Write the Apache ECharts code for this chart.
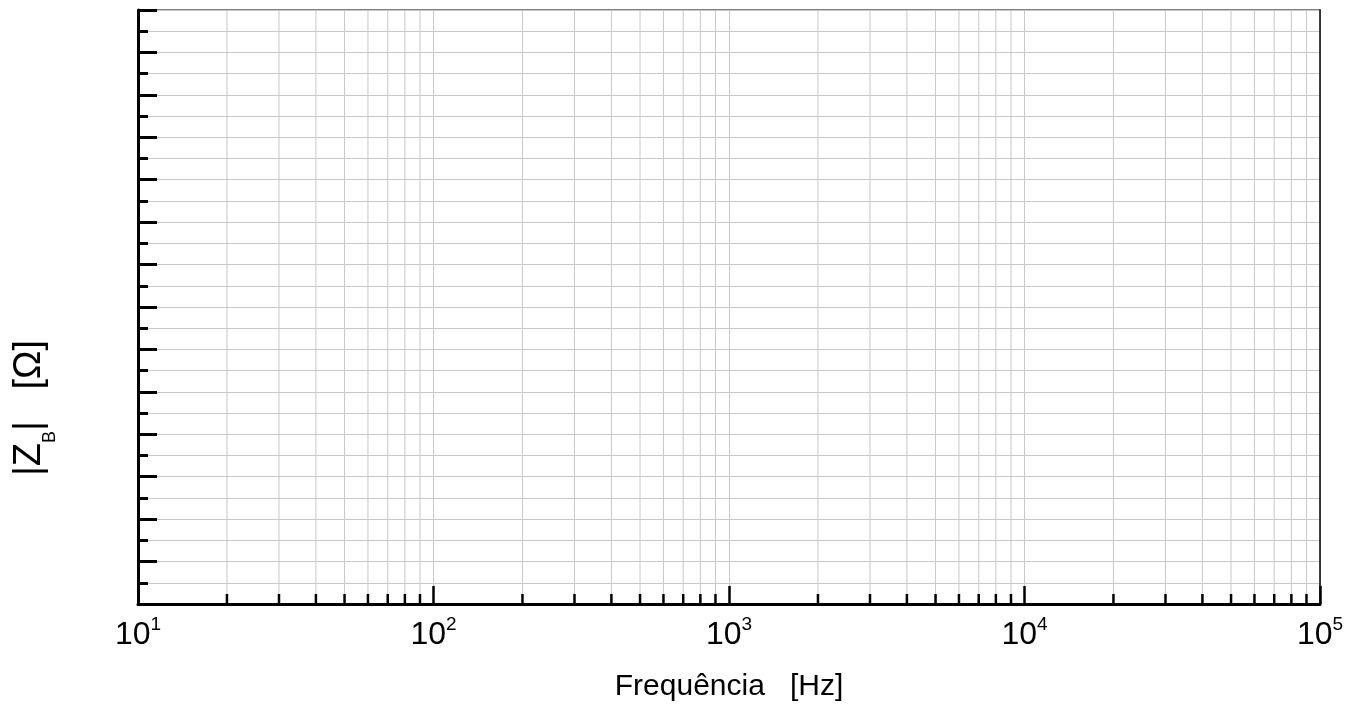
<!DOCTYPE html>
<html>
<head>
<meta charset="utf-8">
<script src="https://cdn.jsdelivr.net/npm/echarts@6/dist/echarts.min.js"></script>
<style>
html,body{margin:0;padding:0;background:#ffffff;}
#chart{width:1363px;height:713px;}
</style>
</head>
<body>
<div id="chart"></div>
<script>
// ---- axis ranges and tick data (chart contains no plotted series values) ----
const xMin = 10;
const xMax = 100000;
const xMajorTicks = [10, 100, 1000, 10000, 100000];
const xTickExponents = ['1', '2', '3', '4', '5'];
const xMinorTicks = [
  20, 30, 40, 50, 60, 70, 80, 90,
  200, 300, 400, 500, 600, 700, 800, 900,
  2000, 3000, 4000, 5000, 6000, 7000, 8000, 9000,
  20000, 30000, 40000, 50000, 60000, 70000, 80000, 90000
];
const yMin = 0;
const yMax = 28;
const yMajorStep = 2;
const xAxisName = 'Frequência   [Hz]';
const yAxisNameRich = '{m||Z}{sub|B}{m||   [Ω]}';

const FONT = '"Liberation Sans", Arial, sans-serif';
const GRID_COLOR = '#c8c8c8';

function expLabel(v) {
  let idx = -1;
  for (let i = 0; i < xMajorTicks.length; i++) {
    if (Math.abs(v - xMajorTicks[i]) / xMajorTicks[i] < 1e-6) { idx = i; break; }
  }
  if (idx < 0) return '';
  return '{b|10}{s|' + xTickExponents[idx] + '}';
}

const chart = echarts.init(document.getElementById('chart'), null, {renderer: 'canvas'});

const option = {
  backgroundColor: '#ffffff',
  animation: false,
  grid: {left: 138, right: 43, top: 10, bottom: 109, containLabel: false, outerBoundsMode: 'none'},
  xAxis: [
    {
      type: 'log', logBase: 10, min: xMin, max: xMax, position: 'bottom', z: 3,
      splitNumber: 4,
      axisLine: {show: true, onZero: false, lineStyle: {color: '#000000', width: 3}},
      axisTick: {show: true, inside: true, length: 18, lineStyle: {color: '#000000', width: 2.5}},
      minorTick: {show: false},
      splitLine: {show: true, lineStyle: {color: GRID_COLOR, width: 1}},
      axisLabel: {
        show: true, margin: 11, showMinLabel: true, showMaxLabel: true,
        formatter: expLabel,
        rich: {
          b: {fontFamily: FONT, fontSize: 32, lineHeight: 40, color: '#000000'},
          s: {fontFamily: FONT, fontSize: 19, lineHeight: 19, verticalAlign: 'top', color: '#000000'}
        }
      },
      name: xAxisName, nameLocation: 'middle', nameGap: 68,
      nameTextStyle: {fontFamily: FONT, fontSize: 30, color: '#000000'}
    },
    {
      type: 'log', logBase: 10, min: xMin, max: xMax, position: 'top', z: 1,
      axisLine: {show: true, onZero: false, lineStyle: {color: '#808080', width: 2}},
      axisTick: {show: false}, axisLabel: {show: false}, splitLine: {show: false}
    }
  ],
  yAxis: [
    {
      type: 'value', min: yMin, max: yMax, interval: yMajorStep, position: 'left', z: 3,
      axisLine: {show: true, onZero: false, lineStyle: {color: '#000000', width: 3}},
      axisTick: {show: true, inside: true, length: 19, lineStyle: {color: '#000000', width: 3}},
      minorTick: {show: true, splitNumber: 2, length: 10, lineStyle: {color: '#000000', width: 3}},
      axisLabel: {show: false},
      splitLine: {show: true, lineStyle: {color: GRID_COLOR, width: 1}},
      minorSplitLine: {show: true, lineStyle: {color: GRID_COLOR, width: 1}},
      name: yAxisNameRich, nameLocation: 'middle', nameRotate: 90, nameGap: 79,
      nameTextStyle: {
        fontFamily: FONT, fontSize: 38, color: '#000000', padding: [0, 202, 0, 0],
        rich: {
          m: {fontFamily: FONT, fontSize: 38, lineHeight: 58, color: '#000000'},
          sub: {fontFamily: FONT, fontSize: 18, lineHeight: 18, verticalAlign: 'bottom', color: '#000000'}
        }
      }
    },
    {
      type: 'value', min: yMin, max: yMax, position: 'right', z: 3,
      axisLine: {show: true, onZero: false, lineStyle: {color: '#000000', width: 1.5}},
      axisTick: {show: false}, axisLabel: {show: false}, splitLine: {show: false}
    }
  ],
  series: [
    {
      type: 'custom',
      name: 'minorX',
      coordinateSystem: 'cartesian2d',
      xAxisIndex: 0, yAxisIndex: 0, z: 2, silent: true,
      data: xMinorTicks.map(function (v) { return [v, yMin]; }),
      renderItem: function (params, api) {
        const x = api.value(0);
        const top = api.coord([x, yMax]);
        const bot = api.coord([x, yMin]);
        return {
          type: 'group',
          children: [
            {type: 'line', shape: {x1: bot[0], y1: bot[1] - 2, x2: top[0], y2: top[1]},
             style: {stroke: GRID_COLOR, lineWidth: 1}},
            {type: 'line', shape: {x1: bot[0], y1: bot[1], x2: bot[0], y2: bot[1] - 10},
             style: {stroke: '#000000', lineWidth: 2.5}}
          ]
        };
      }
    }
  ]
};

chart.setOption(option);
</script>
</body>
</html>
